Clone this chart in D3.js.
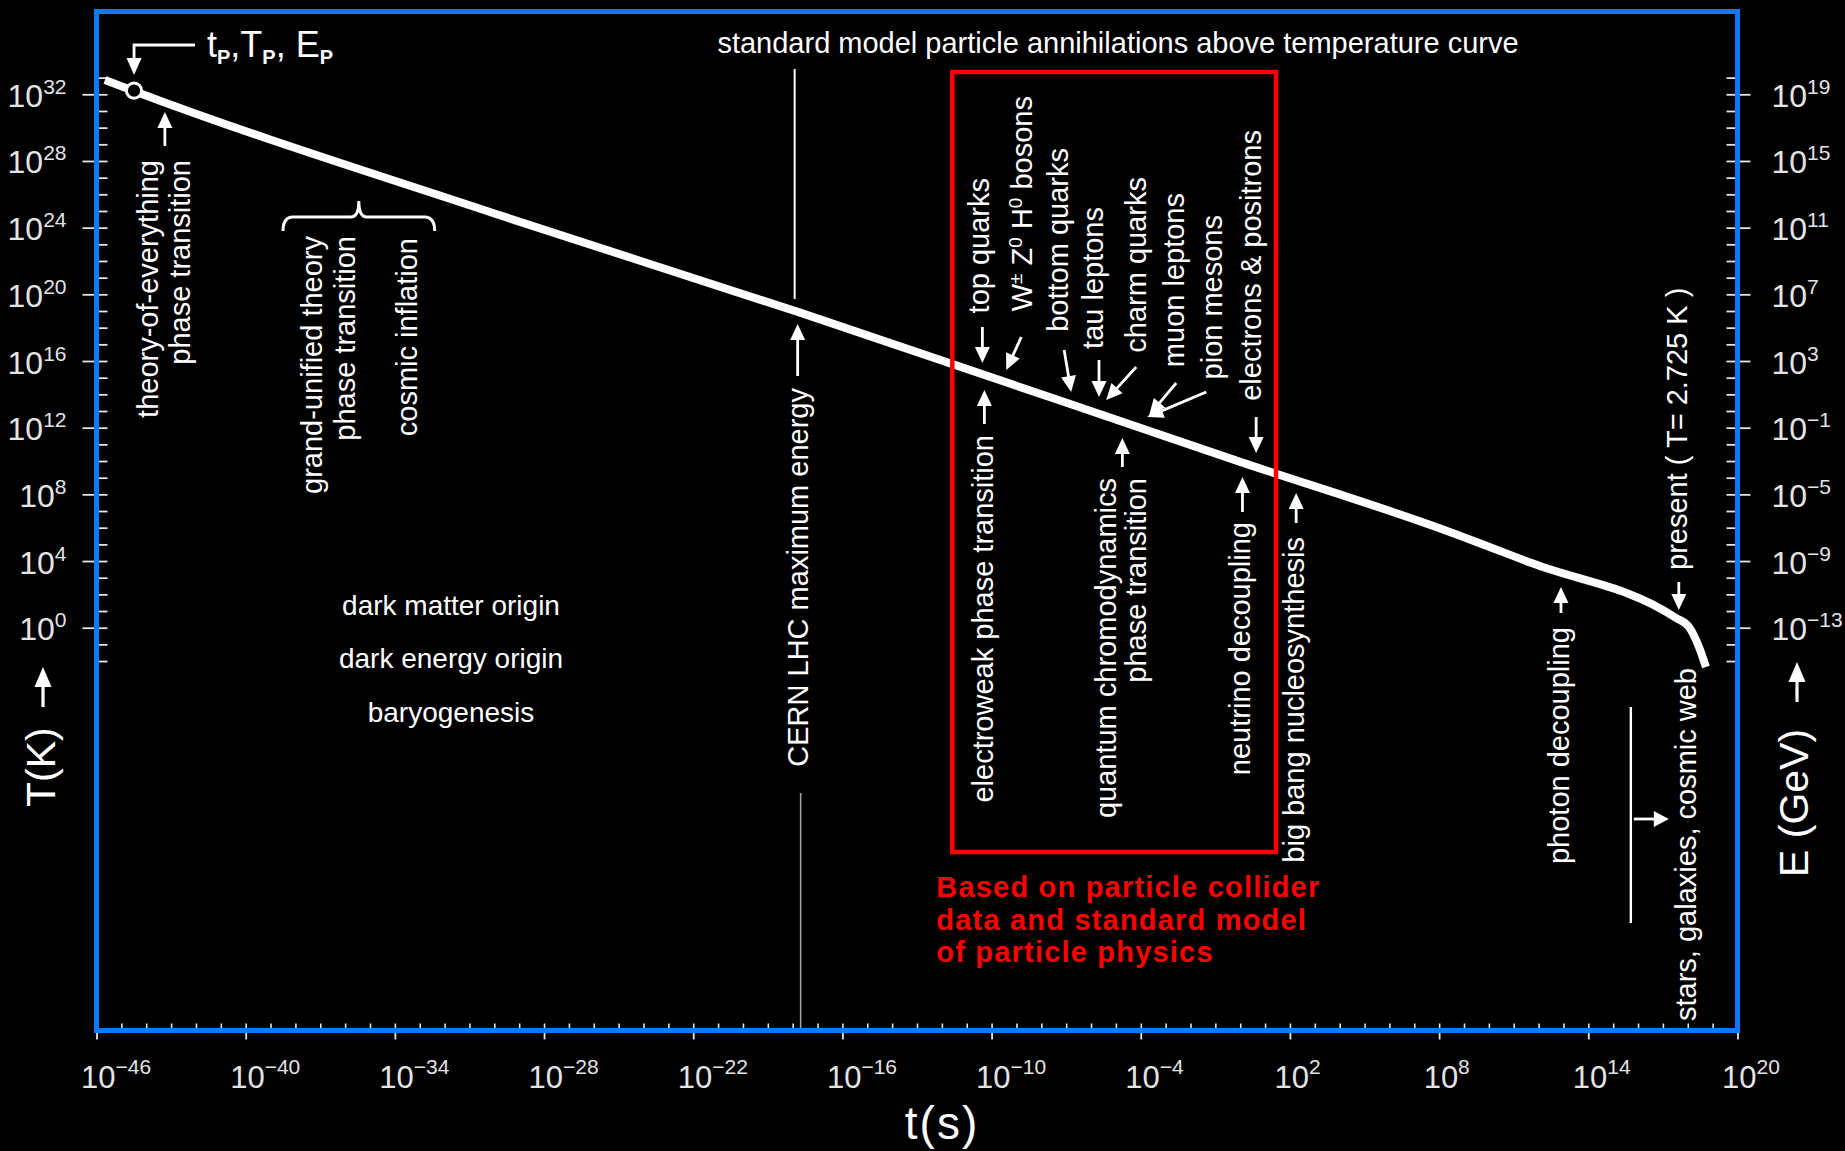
<!DOCTYPE html>
<html>
<head>
<meta charset="utf-8">
<script src="https://cdn.jsdelivr.net/npm/d3@7"></script>
<style>
  html, body { margin: 0; padding: 0; background: #000; }
  svg { display: block; }
</style>
</head>
<body>
<svg id="chart" width="1845" height="1151"></svg>
<script>
// ---------- data (all values are base-10 exponents) ----------
// temperature history of the universe: time t (s) and temperature T (K)
const curveTimeExps = [-45.66, -44.5, -30, -17.7, 0, 8.4, 11.75, 17.5, 18.05, 18.45, 18.73];
const curveTempExps = [32.86, 32.2, 24.85, 18.9, 9.95, 5.76, 3.86, 0.61, 0.04, -1.16, -2.36];

// Planck point (t_P, T_P)
const planckTimeExp = -44.49;
const planckTempExp = 32.22;

// labelled ticks
const timeTickExps   = [-46, -40, -34, -28, -22, -16, -10, -4, 2, 8, 14, 20];
const tempTickExps   = [0, 4, 8, 12, 16, 20, 24, 28, 32];
const energyTickExps = [-13, -9, -5, -1, 3, 7, 11, 15, 19];
// extent of the one-per-decade minor ticks
const timeMinorExtent   = [-46, 20];
const tempMinorExtent   = [-2, 33];
const energyMinorExtent = [-15, 20];

// epochs pointed at along the curve (time exponents where each pointer lands)
const epochNames = [
  "theory-of-everything", "CERN LHC", "electroweak", "top quarks", "W Z H bosons",
  "bottom quarks", "tau leptons", "charm quarks", "muon leptons", "pion mesons",
  "electrons & positrons", "QCD", "neutrino decoupling", "nucleosynthesis",
  "photon decoupling", "present", "structure"
];
const epochTimeExps = [
  -43.25, -17.8, -10.29, -10.37, -9.41,
  -6.8, -5.68, -5.39, -3.66, -3.74,
  0.64, -4.74, 0.09, 2.25,
  12.9, 17.64, 15.71
];
// time spans: grand unification / inflation brace, collider-tested region
const gutSpanExps      = [-38.5, -32.4];
const colliderSpanExps = [-11.58, 1.44];

// ---------- setup ----------
const W = 1845, H = 1151;
const frame = { left: 96.5, right: 1737.5, top: 11.5, bottom: 1030.5 };
const FONT = '"Liberation Sans", Arial, Helvetica, sans-serif';
const p10 = e => Math.pow(10, e);

const svg = d3.select('#chart').attr('font-family', FONT);
svg.append('rect').attr('width', W).attr('height', H).attr('fill', '#000');

const x  = d3.scaleLog().domain([p10(-46), p10(20)]).range([frame.left, frame.right]);
const yT = d3.scaleLog().domain([p10(0), p10(32)]).range([627.7, 94.3]);
const yE = d3.scaleLog().domain([p10(-13), p10(19)]).range([627.7, 94.3]);
const ex = i => x(p10(epochTimeExps[i]));

const tickColor = '#e4e4e4';
const decades = ext => d3.range(ext[0], ext[1] + 1).map(p10);
const noDomain = g => g.select('.domain').remove();

function powerText(sel, exp, supSize, raise) {
  sel.append('tspan').text('10');
  sel.append('tspan').attr('dy', -raise).attr('font-size', supSize)
    .text(exp < 0 ? '\u2212' + (-exp) : String(exp));
}

// ---------- axes ----------
const axes = svg.append('g').attr('color', tickColor);

// time axis
axes.append('g').attr('transform', `translate(0,${frame.bottom})`)
  .call(d3.axisBottom(x).tickValues(decades(timeMinorExtent)).tickSize(-7).tickFormat(''))
  .call(noDomain).call(g => g.selectAll('line').attr('stroke-width', 1.6));
const xMajor = axes.append('g').attr('transform', `translate(0,${frame.bottom})`)
  .call(d3.axisBottom(x).tickValues(timeTickExps.map(p10)).tickSize(9).tickFormat(''))
  .call(noDomain).call(g => g.selectAll('line').attr('stroke-width', 1.8));
xMajor.selectAll('.tick text').remove();
xMajor.selectAll('.tick').append('text')
  .attr('x', -16).attr('y', 57).attr('text-anchor', 'start')
  .attr('fill', tickColor).attr('font-size', 31)
  .each(function (d) { powerText(d3.select(this), Math.round(Math.log10(d)), 21, 14); });

// temperature axis (left)
axes.append('g').attr('transform', `translate(${frame.left},0)`)
  .call(d3.axisLeft(yT).tickValues(decades(tempMinorExtent)).tickSize(-11).tickFormat(''))
  .call(noDomain).call(g => g.selectAll('line').attr('stroke-width', 1.8));
const yMajor = axes.append('g').attr('transform', `translate(${frame.left},0)`)
  .call(d3.axisLeft(yT).tickValues(tempTickExps.map(p10)).tickSize(14).tickFormat(''))
  .call(noDomain).call(g => g.selectAll('line').attr('stroke-width', 1.8));
yMajor.selectAll('.tick text').remove();
yMajor.selectAll('.tick').append('text')
  .attr('x', -30).attr('y', 12).attr('text-anchor', 'end')
  .attr('fill', tickColor).attr('font-size', 32)
  .each(function (d) { powerText(d3.select(this), Math.round(Math.log10(d)), 21, 13); });

// energy axis (right)
axes.append('g').attr('transform', `translate(${frame.right},0)`)
  .call(d3.axisRight(yE).tickValues(decades(energyMinorExtent)).tickSize(-11).tickFormat(''))
  .call(noDomain).call(g => g.selectAll('line').attr('stroke-width', 1.8));
const eMajor = axes.append('g').attr('transform', `translate(${frame.right},0)`)
  .call(d3.axisRight(yE).tickValues(energyTickExps.map(p10)).tickSize(13).tickFormat(''))
  .call(noDomain).call(g => g.selectAll('line').attr('stroke-width', 1.8));
eMajor.selectAll('.tick text').remove();
eMajor.selectAll('.tick').append('text')
  .attr('x', 34).attr('y', 12).attr('text-anchor', 'start')
  .attr('fill', tickColor).attr('font-size', 32)
  .each(function (d) { powerText(d3.select(this), Math.round(Math.log10(d)), 21, 13); });

// ---------- helpers ----------
const ann = svg.append('g').attr('fill', '#fff');

function arrow(x1, y1, x2, y2, opts = {}) {
  const head = opts.head || 16, half = opts.half || 7.5, w = opts.width || 2.8;
  const dx = x2 - x1, dy = y2 - y1, L = Math.hypot(dx, dy), ux = dx / L, uy = dy / L;
  const bx = x2 - ux * head, by = y2 - uy * head;
  ann.append('line').attr('x1', x1).attr('y1', y1).attr('x2', bx + ux).attr('y2', by + uy)
    .attr('stroke', '#fff').attr('stroke-width', w);
  ann.append('path')
    .attr('d', `M${x2},${y2}L${bx - uy * half},${by + ux * half}L${bx + uy * half},${by - ux * half}Z`)
    .attr('fill', '#fff');
}

// vertical text reading bottom-to-top; (bx, y) is baseline x and the anchor point
function vtext(bx, y, str, anchor = 'end', size = 29) {
  return ann.append('text')
    .attr('transform', `translate(${bx},${y}) rotate(-90)`)
    .attr('text-anchor', anchor).attr('font-size', size).text(str);
}

// ---------- temperature curve ----------
const curveLine = d3.line()
  .x(d => x(p10(d[0])))
  .y(d => yT(p10(d[1])))
  .curve(d3.curveMonotoneX);

svg.append('path')
  .datum(d3.zip(curveTimeExps, curveTempExps))
  .attr('d', curveLine)
  .attr('fill', 'none').attr('stroke', '#fff').attr('stroke-width', 8)
  .attr('stroke-linejoin', 'round');

const px = x(p10(planckTimeExp)), py = yT(p10(planckTempExp));
svg.append('circle').attr('cx', px).attr('cy', py).attr('r', 7.6)
  .attr('fill', '#000').attr('stroke', '#fff').attr('stroke-width', 3);

// Planck label with leader
ann.append('path').attr('d', `M195,45H${px}V60`).attr('fill', 'none')
  .attr('stroke', '#fff').attr('stroke-width', 2.8);
arrow(px, 58, px, 75, { head: 17 });
const pl = ann.append('text').attr('x', 207).attr('y', 57).attr('font-size', 36);
[['t', 'P'], [',T', 'P'], [', E', 'P']].forEach(([a, b], i) => {
  pl.append('tspan').attr('dy', i ? -7 : 0).text(a);
  pl.append('tspan').attr('dy', 7).attr('font-size', 20).attr('font-weight', 'bold').text(b);
});

// ---------- annotations ----------
// title line
ann.append('text').attr('x', 1118).attr('y', 53).attr('text-anchor', 'middle')
  .attr('font-size', 29).text('standard model particle annihilations above temperature curve');

// theory-of-everything
{
  const xa = ex(0);
  arrow(xa, 146, xa, 112);
  vtext(xa - 7, 160, 'theory-of-everything');
  vtext(xa + 25, 160, 'phase transition');
}

// grand unification / inflation brace
{
  const x0 = x(p10(gutSpanExps[0])), x1 = x(p10(gutSpanExps[1])), xm = (x0 + x1) / 2;
  ann.append('path')
    .attr('d', `M${x0},231Q${x0},217 ${x0 + 10},217L${xm - 8},217Q${xm},217 ${xm},201` +
               `Q${xm},217 ${xm + 8},217L${x1 - 10},217Q${x1},217 ${x1},231`)
    .attr('fill', 'none').attr('stroke', '#fff').attr('stroke-width', 3);
  vtext(x0 + 39, 236, 'grand-unified theory');
  vtext(x0 + 72, 236, 'phase transition');
  vtext(x0 + 134, 238, 'cosmic inflation');
}

// origins
[['dark matter origin', 615], ['dark energy origin', 668], ['baryogenesis', 722]].forEach(([s, y]) => {
  ann.append('text').attr('x', 451).attr('y', y).attr('text-anchor', 'middle')
    .attr('font-size', 28).text(s);
});

// CERN LHC
{
  const xa = ex(1);
  ann.append('line').attr('x1', xa - 3).attr('x2', xa - 3).attr('y1', 69).attr('y2', 299)
    .attr('stroke', '#fff').attr('stroke-width', 2);
  ann.append('line').attr('x1', xa + 3).attr('x2', xa + 3).attr('y1', 793).attr('y2', frame.bottom)
    .attr('stroke', '#a0a0a0').attr('stroke-width', 1.6);
  arrow(xa, 376, xa, 324);
  vtext(xa + 10, 388, 'CERN LHC maximum energy');
}

// collider box
{
  const x0 = x(p10(colliderSpanExps[0])), x1 = x(p10(colliderSpanExps[1]));
  svg.append('rect').attr('x', x0).attr('y', 72).attr('width', x1 - x0).attr('height', 780)
    .attr('fill', 'none').attr('stroke', '#ff0000').attr('stroke-width', 4.5);
  const rt = svg.append('text').attr('fill', '#ff0000').attr('font-weight', 'bold')
    .attr('font-size', 29).attr('letter-spacing', 1.2).attr('y', 897);
  ['Based on particle collider', 'data and standard model', 'of particle physics'].forEach((s, i) => {
    rt.append('tspan').attr('x', x0 - 16).attr('dy', i ? 32.5 : 0).text(s);
  });
}

// electroweak
{
  const xa = ex(2);
  arrow(xa, 424, xa, 390);
  vtext(xa + 9, 435, 'electroweak phase transition');
}

// particle thresholds
{
  let xa = ex(3);
  vtext(xa + 7, 178, 'top quarks');
  arrow(xa, 327, xa, 363);

  xa = ex(4);
  const wz = ann.append('text').attr('transform', `translate(${xa + 26},96) rotate(-90)`)
    .attr('text-anchor', 'end').attr('font-size', 29);
  wz.append('tspan').text('W');
  wz.append('tspan').attr('dy', -10).attr('font-size', 19).text('\u00b1');
  wz.append('tspan').attr('dy', 10).text(' Z');
  wz.append('tspan').attr('dy', -10).attr('font-size', 19).text('0');
  wz.append('tspan').attr('dy', 10).text(' H');
  wz.append('tspan').attr('dy', -10).attr('font-size', 19).text('0');
  wz.append('tspan').attr('dy', 10).text(' bosons');
  arrow(xa + 15, 337, xa, 370);

  xa = ex(5);
  vtext(xa - 3, 148, 'bottom quarks');
  arrow(xa - 7, 350, xa, 392);

  xa = ex(6);
  vtext(xa + 4, 207, 'tau leptons');
  arrow(xa, 360, xa, 397);

  xa = ex(7);
  vtext(xa + 40, 177, 'charm quarks');
  arrow(xa + 30, 367, xa, 400);

  xa = ex(8);
  vtext(xa + 35, 193, 'muon leptons');
  arrow(xa + 27, 383, xa, 415);

  xa = ex(9);
  vtext(xa + 75, 215, 'pion mesons');
  arrow(xa + 59, 392, xa, 417);

  xa = ex(10);
  vtext(xa + 5, 130, 'electrons & positrons');
  arrow(xa, 417, xa, 453);
}

// QCD transition
{
  const xa = ex(11);
  arrow(xa, 467, xa, 438);
  vtext(xa - 6, 478, 'quantum chromodynamics');
  vtext(xa + 24, 478, 'phase transition');
}

// neutrino decoupling, nucleosynthesis, photon decoupling
{
  let xa = ex(12);
  arrow(xa, 512, xa, 477);
  vtext(xa + 8, 522, 'neutrino decoupling');

  xa = ex(13);
  arrow(xa, 523, xa, 493);
  vtext(xa + 8, 537, 'big bang nucleosynthesis');

  xa = ex(14);
  arrow(xa, 613, xa, 587);
  vtext(xa + 8, 627, 'photon decoupling');
}

// present
{
  const xa = ex(15);
  arrow(xa, 582, xa, 610);
  vtext(xa + 8, 570, 'present ( T= 2.725 K )', 'start');
}

// stars, galaxies, cosmic web
{
  const xa = ex(16);
  ann.append('line').attr('x1', xa).attr('x2', xa).attr('y1', 707).attr('y2', 923)
    .attr('stroke', '#fff').attr('stroke-width', 2.4);
  arrow(xa + 3, 819, xa + 38, 819, { head: 15, half: 8 });
  vtext(xa + 65, 668, 'stars, galaxies, cosmic web');
}

// ---------- axis titles ----------
ann.append('text').attr('x', 942).attr('y', 1139).attr('text-anchor', 'middle')
  .attr('font-size', 46).attr('letter-spacing', 2).text('t(s)');
vtext(55, 807, 'T(K)', 'start', 41);
arrow(43, 707, 43, 667, { head: 20, half: 8.5, width: 3.2 });
vtext(1808, 877, 'E (GeV)', 'start', 41);
arrow(1797, 702, 1797, 662, { head: 20, half: 8.5, width: 3.2 });

// ---------- frame ----------
svg.append('rect')
  .attr('x', frame.left).attr('y', frame.top)
  .attr('width', frame.right - frame.left).attr('height', frame.bottom - frame.top)
  .attr('fill', 'none').attr('stroke', '#0a7bff').attr('stroke-width', 5);
</script>
</body>
</html>
